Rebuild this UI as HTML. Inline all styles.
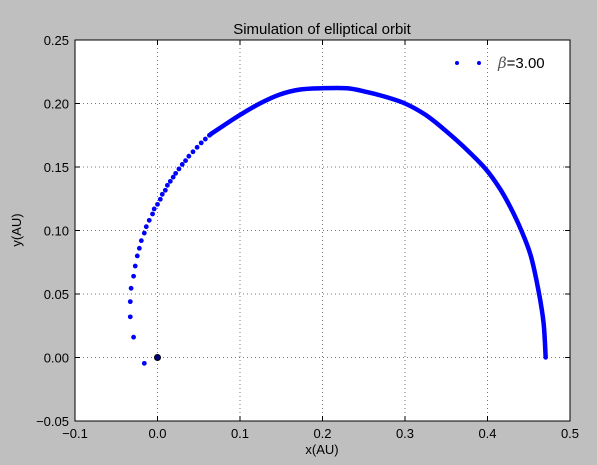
<!DOCTYPE html>
<html><head><meta charset="utf-8"><style>
body{margin:0;background:#bfbfbf;}
svg{display:block;font-family:"Liberation Sans","DejaVu Sans",sans-serif;}
</style></head><body>
<svg id="c" width="597" height="465">
<rect width="597" height="465" fill="#bfbfbf"/>
<text x="322" y="34" font-size="15" text-anchor="middle">Simulation of elliptical orbit</text>
<rect x="75" y="40" width="495" height="381" fill="#fff"/>
<g id="grid"></g><g id="ticks"></g><g id="marks"></g>
<rect x="75" y="40" width="495" height="381" fill="none" stroke="#000" stroke-width="1"/>
<text x="322" y="454" font-size="13" text-anchor="middle">x(AU)</text>
<text x="0" y="0" font-size="13" text-anchor="middle" transform="translate(21,230) rotate(-90)">y(AU)</text>
<g>
<circle cx="457" cy="63" r="2" fill="#0000ff"/>
<circle cx="479" cy="63" r="2" fill="#0000ff"/>
<text x="498" y="68" font-size="15"><tspan font-style="italic" font-family="'DejaVu Serif',serif" fill="#555">β</tspan>=3.00</text>
</g>
</svg>
<script>
const xTicks=[-0.1,0,0.1,0.2,0.3,0.4,0.5];
const xTickLabels=["\u22120.1","0.0","0.1","0.2","0.3","0.4","0.5"];
const yTicks=[-0.05,0,0.05,0.1,0.15,0.2,0.25];
const yTickLabels=["\u22120.05","0.00","0.05","0.10","0.15","0.20","0.25"];
const sparseX=[-0.016,-0.029,-0.033,-0.033,-0.032,-0.029,-0.027,-0.0245,-0.022,-0.0196,-0.016,-0.0136,-0.010,-0.006,-0.004,0.000,0.0034,0.0058,0.0095,0.012,0.0155,0.019,0.022,0.026,0.030,0.034,0.038,0.043,0.048,0.053,0.058,0.063];
const sparseY=[-0.0046,0.016,0.032,0.044,0.0545,0.064,0.072,0.080,0.086,0.092,0.098,0.103,0.108,0.113,0.117,0.1206,0.1246,0.1285,0.1317,0.1356,0.1387,0.1420,0.1450,0.1485,0.1520,0.1550,0.1585,0.1620,0.1655,0.1690,0.1720,0.1750];
const denseX=[0.063,0.067,0.088,0.100,0.124,0.148,0.173,0.199,0.230,0.254,0.275,0.300,0.325,0.3485,0.371,0.397,0.415,0.428,0.441,0.4525,0.462,0.468,0.4705];
const denseY=[0.1750,0.177,0.186,0.191,0.200,0.207,0.211,0.212,0.212,0.209,0.2055,0.200,0.191,0.179,0.166,0.149,0.133,0.118,0.100,0.080,0.052,0.027,0.000];
const sunX=[0], sunY=[0];
const NS="http://www.w3.org/2000/svg";
const L=75,R=570,T=40,B=421;
const sx=v=>L+(v+0.1)/0.6*(R-L);
const sy=v=>B-(v+0.05)/0.3*(B-T);
function mk(t,a,p){const e=document.createElementNS(NS,t);for(const k in a)e.setAttribute(k,a[k]);p.appendChild(e);return e;}
const grid=document.getElementById('grid'),ticks=document.getElementById('ticks'),marks=document.getElementById('marks');
xTicks.forEach((v,i)=>{const x=sx(v);
 const g=mk('line',{x1:x,x2:x,y1:T,y2:B,stroke:'#777','stroke-dasharray':'1,3','stroke-width':1},grid);
 
 
 mk('line',{x1:x,x2:x,y1:B,y2:B-5,stroke:'#000'},ticks);
 mk('line',{x1:x,x2:x,y1:T,y2:T+5,stroke:'#000'},ticks);
 const t=mk('text',{x:x,y:B+17,'font-size':13,'text-anchor':'middle'},ticks);t.textContent=xTickLabels[i];
 
 
});
yTicks.forEach((v,i)=>{const y=sy(v);
 const g=mk('line',{x1:L,x2:R,y1:y,y2:y,stroke:'#777','stroke-dasharray':'1,3','stroke-width':1},grid);
 
 
 mk('line',{x1:L,x2:L+5,y1:y,y2:y,stroke:'#000'},ticks);
 mk('line',{x1:R,x2:R-5,y1:y,y2:y,stroke:'#000'},ticks);
 const t=mk('text',{x:L-6,y:y+5,'font-size':13,'text-anchor':'end'},ticks);t.textContent=yTickLabels[i];
 
 
});
const P=denseX.map((v,i)=>[sx(v),sy(denseY[i])]);
let d='M'+P[0][0]+','+P[0][1];
for(let i=0;i<P.length-1;i++){
 const p0=P[Math.max(0,i-1)],p1=P[i],p2=P[i+1],p3=P[Math.min(P.length-1,i+2)];
 const c1=[p1[0]+(p2[0]-p0[0])/6,p1[1]+(p2[1]-p0[1])/6];
 const c2=[p2[0]-(p3[0]-p1[0])/6,p2[1]-(p3[1]-p1[1])/6];
 d+=' C'+c1[0]+','+c1[1]+' '+c2[0]+','+c2[1]+' '+p2[0]+','+p2[1];
}
const pl=mk('path',{d:d,fill:'none',stroke:'#0000ff','stroke-width':4.5,'stroke-linejoin':'round','stroke-linecap':'round'},marks);


sparseX.forEach((v,i)=>{const c=mk('circle',{cx:sx(v),cy:sy(sparseY[i]),r:2.4,fill:'#0000ff'},marks);
 
 
});
sunX.forEach((v,i)=>{const c=mk('circle',{cx:sx(v),cy:sy(sunY[i]),r:3,fill:'#000080',stroke:'#000','stroke-width':1},marks);
 
 
});
</script>
</body></html>
